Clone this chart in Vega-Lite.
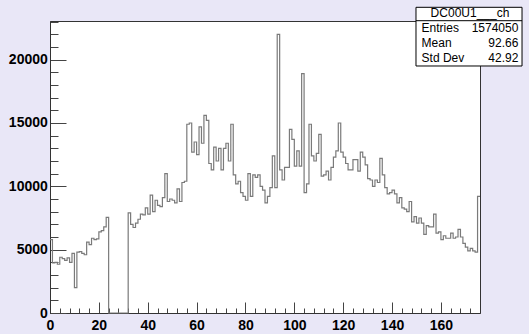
{
  "$schema": "https://vega.github.io/schema/vega-lite/v6.json",
  "width": 430,
  "height": 292,
  "autosize": {"type": "none"},
  "padding": {"left": 50, "top": 21, "right": 49, "bottom": 21},
  "background": "#e9e7f7",
  "config": {
    "view": {"fill": "#ffffff", "stroke": "#333333", "strokeWidth": 1},
    "axis": {
      "title": null, "grid": false, "format": "d", "labelFlush": false, "labelOverlap": false,
      "labelFont": "Liberation Sans", "labelFontWeight": "bold", "labelFontSize": 14, "labelColor": "#000000",
      "tickColor": "#444444", "tickWidth": 1, "domainColor": "#333333"
    }
  },
  "datasets": {
    "hist": [
      {"x":0,"count":5800},{"x":1,"count":3950},{"x":2,"count":4000},{"x":3,"count":3850},{"x":4,"count":4400},{"x":5,"count":4300},{"x":6,"count":4150},{"x":7,"count":4350},{"x":8,"count":4000},{"x":9,"count":4700},
      {"x":10,"count":2000},{"x":11,"count":4800},{"x":12,"count":4850},{"x":13,"count":4700},{"x":14,"count":4600},{"x":15,"count":5600},{"x":16,"count":5400},{"x":17,"count":5900},{"x":18,"count":5800},{"x":19,"count":5850},
      {"x":20,"count":6400},{"x":21,"count":6500},{"x":22,"count":6800},{"x":23,"count":7550},{"x":24,"count":0},{"x":25,"count":0},{"x":26,"count":0},{"x":27,"count":0},{"x":28,"count":0},{"x":29,"count":0},
      {"x":30,"count":0},{"x":31,"count":0},{"x":32,"count":7900},{"x":33,"count":7000},{"x":34,"count":6750},{"x":35,"count":7100},{"x":36,"count":7400},{"x":37,"count":7800},{"x":38,"count":7750},{"x":39,"count":8300},
      {"x":40,"count":7800},{"x":41,"count":9300},{"x":42,"count":8000},{"x":43,"count":8900},{"x":44,"count":8500},{"x":45,"count":8400},{"x":46,"count":9100},{"x":47,"count":11000},{"x":48,"count":8800},{"x":49,"count":9000},
      {"x":50,"count":8900},{"x":51,"count":8700},{"x":52,"count":9800},{"x":53,"count":8800},{"x":54,"count":10300},{"x":55,"count":10400},{"x":56,"count":14900},{"x":57,"count":15000},{"x":58,"count":12700},{"x":59,"count":13500},
      {"x":60,"count":12500},{"x":61,"count":14700},{"x":62,"count":13400},{"x":63,"count":15600},{"x":64,"count":15200},{"x":65,"count":11800},{"x":66,"count":11300},{"x":67,"count":13100},{"x":68,"count":12000},{"x":69,"count":13000},
      {"x":70,"count":11300},{"x":71,"count":13000},{"x":72,"count":13400},{"x":73,"count":12000},{"x":74,"count":14900},{"x":75,"count":10900},{"x":76,"count":10200},{"x":77,"count":10400},{"x":78,"count":9500},{"x":79,"count":9200},
      {"x":80,"count":8900},{"x":81,"count":11000},{"x":82,"count":9200},{"x":83,"count":10900},{"x":84,"count":10700},{"x":85,"count":10900},{"x":86,"count":10000},{"x":87,"count":9700},{"x":88,"count":8700},{"x":89,"count":9200},
      {"x":90,"count":9900},{"x":91,"count":12400},{"x":92,"count":9900},{"x":93,"count":22000},{"x":94,"count":11300},{"x":95,"count":10500},{"x":96,"count":11500},{"x":97,"count":11500},{"x":98,"count":14500},{"x":99,"count":13700},
      {"x":100,"count":11600},{"x":101,"count":12800},{"x":102,"count":11600},{"x":103,"count":18900},{"x":104,"count":9500},{"x":105,"count":10200},{"x":106,"count":14900},{"x":107,"count":12400},{"x":108,"count":12000},{"x":109,"count":12600},
      {"x":110,"count":14100},{"x":111,"count":10800},{"x":112,"count":10900},{"x":113,"count":11200},{"x":114,"count":10500},{"x":115,"count":11500},{"x":116,"count":12300},{"x":117,"count":12800},{"x":118,"count":15000},{"x":119,"count":12700},
      {"x":120,"count":12300},{"x":121,"count":11800},{"x":122,"count":11300},{"x":123,"count":11300},{"x":124,"count":12100},{"x":125,"count":12100},{"x":126,"count":11200},{"x":127,"count":12700},{"x":128,"count":12300},{"x":129,"count":11700},
      {"x":130,"count":10600},{"x":131,"count":10500},{"x":132,"count":10000},{"x":133,"count":10500},{"x":134,"count":10300},{"x":135,"count":12200},{"x":136,"count":10900},{"x":137,"count":9900},{"x":138,"count":9400},{"x":139,"count":9500},
      {"x":140,"count":9700},{"x":141,"count":9400},{"x":142,"count":8700},{"x":143,"count":9100},{"x":144,"count":8300},{"x":145,"count":8200},{"x":146,"count":8000},{"x":147,"count":8800},{"x":148,"count":7200},{"x":149,"count":7600},
      {"x":150,"count":7100},{"x":151,"count":7500},{"x":152,"count":7100},{"x":153,"count":6200},{"x":154,"count":6900},{"x":155,"count":6800},{"x":156,"count":6800},{"x":157,"count":7800},{"x":158,"count":6300},{"x":159,"count":6400},
      {"x":160,"count":5800},{"x":161,"count":6100},{"x":162,"count":5900},{"x":163,"count":5900},{"x":164,"count":6300},{"x":165,"count":5900},{"x":166,"count":6000},{"x":167,"count":6600},{"x":168,"count":6000},{"x":169,"count":5500},
      {"x":170,"count":5200},{"x":171,"count":4900},{"x":172,"count":5100},{"x":173,"count":4900},{"x":174,"count":4800},{"x":175,"count":9200},{"x":176,"count":9200}
    ],
    "stats": [
      {"row": 1, "label": "Entries", "value": "1574050"},
      {"row": 2, "label": "Mean", "value": "92.66"},
      {"row": 3, "label": "Std Dev", "value": "42.92"}
    ],
    "title": [{"row": 0, "label": "DC00U1___ch"}],
    "one": [{}]
  },
  "resolve": {
    "scale": {"y": "independent"},
    "axis": {"x": "independent", "y": "independent"}
  },
  "layer": [
    {
      "data": {"name": "hist"},
      "mark": {"type": "line", "interpolate": "step-after", "color": "#7a7a7a", "strokeWidth": 1.2, "opacity": 0},
      "encoding": {
        "x": {
          "field": "x", "type": "quantitative",
          "scale": {"domain": [0, 176], "nice": false, "zero": false},
          "axis": {
            "orient": "bottom",
            "values": [4,8,12,16,24,28,32,36,44,48,52,56,64,68,72,76,84,88,92,96,104,108,112,116,124,128,132,136,144,148,152,156,164,168,172],
            "labels": false, "domain": false, "tickSize": -5
          }
        },
        "y": {
          "field": "count", "type": "quantitative",
          "scale": {"domain": [0, 23050], "nice": false, "zero": false},
          "axis": {
            "orient": "left",
            "values": [1000,2000,3000,4000,6000,7000,8000,9000,11000,12000,13000,14000,16000,17000,18000,19000,21000,22000,23000],
            "labels": false, "domain": false, "tickSize": -8
          }
        }
      }
    },
    {
      "data": {"name": "hist"},
      "mark": {"type": "line", "interpolate": "step-after", "color": "#7a7a7a", "strokeWidth": 1.2},
      "encoding": {
        "x": {
          "field": "x", "type": "quantitative",
          "scale": {"domain": [0, 176], "nice": false, "zero": false},
          "axis": {
            "orient": "bottom",
            "values": [0,20,40,60,80,100,120,140,160],
            "tickSize": -11, "labelPadding": 16
          }
        },
        "y": {
          "field": "count", "type": "quantitative",
          "scale": {"domain": [0, 23050], "nice": false, "zero": false},
          "axis": {
            "orient": "left",
            "values": [0,5000,10000,15000,20000],
            "tickSize": -16, "labelPadding": 18.7
          }
        }
      }
    },
    {
      "data": {"name": "one"},
      "mark": {"type": "rect", "fill": "#ffffff", "stroke": "#000000", "strokeWidth": 1},
      "encoding": {
        "x": {"datum": 149.8, "type": "quantitative", "scale": {"domain": [0, 176], "nice": false, "zero": false}, "axis": null},
        "x2": {"datum": 193.2},
        "y": {"datum": -0.4, "type": "quantitative", "scale": {"domain": [0.513, 19.98], "reverse": true, "nice": false, "zero": false}, "axis": null},
        "y2": {"datum": 3.513}
      }
    },
    {
      "data": {"name": "one"},
      "mark": {"type": "rule", "color": "#000000", "strokeWidth": 1},
      "encoding": {
        "x": {"datum": 149.8, "type": "quantitative", "scale": {"domain": [0, 176], "nice": false, "zero": false}, "axis": null},
        "x2": {"datum": 193.2},
        "y": {"datum": 0.493, "type": "quantitative", "scale": {"domain": [0.513, 19.98], "reverse": true, "nice": false, "zero": false}, "axis": null}
      }
    },
    {
      "data": {"name": "title"},
      "mark": {"type": "text", "align": "center", "baseline": "middle", "font": "Liberation Sans", "fontSize": 12, "color": "#000000"},
      "encoding": {
        "x": {"datum": 171.9, "type": "quantitative", "scale": {"domain": [0, 176], "nice": false, "zero": false}, "axis": null},
        "y": {"field": "row", "type": "quantitative", "scale": {"domain": [0.513, 19.98], "reverse": true, "nice": false, "zero": false}, "axis": null},
        "text": {"field": "label"}
      }
    },
    {
      "data": {"name": "stats"},
      "mark": {"type": "text", "align": "left", "baseline": "middle", "font": "Liberation Sans", "fontSize": 12, "color": "#000000"},
      "encoding": {
        "x": {"datum": 152.1, "type": "quantitative", "scale": {"domain": [0, 176], "nice": false, "zero": false}, "axis": null},
        "y": {"field": "row", "type": "quantitative", "scale": {"domain": [0.513, 19.98], "reverse": true, "nice": false, "zero": false}, "axis": null},
        "text": {"field": "label"}
      }
    },
    {
      "data": {"name": "stats"},
      "mark": {"type": "text", "align": "right", "baseline": "middle", "font": "Liberation Sans", "fontSize": 12, "color": "#000000"},
      "encoding": {
        "x": {"datum": 191.7, "type": "quantitative", "scale": {"domain": [0, 176], "nice": false, "zero": false}, "axis": null},
        "y": {"field": "row", "type": "quantitative", "scale": {"domain": [0.513, 19.98], "reverse": true, "nice": false, "zero": false}, "axis": null},
        "text": {"field": "value"}
      }
    }
  ]
}
